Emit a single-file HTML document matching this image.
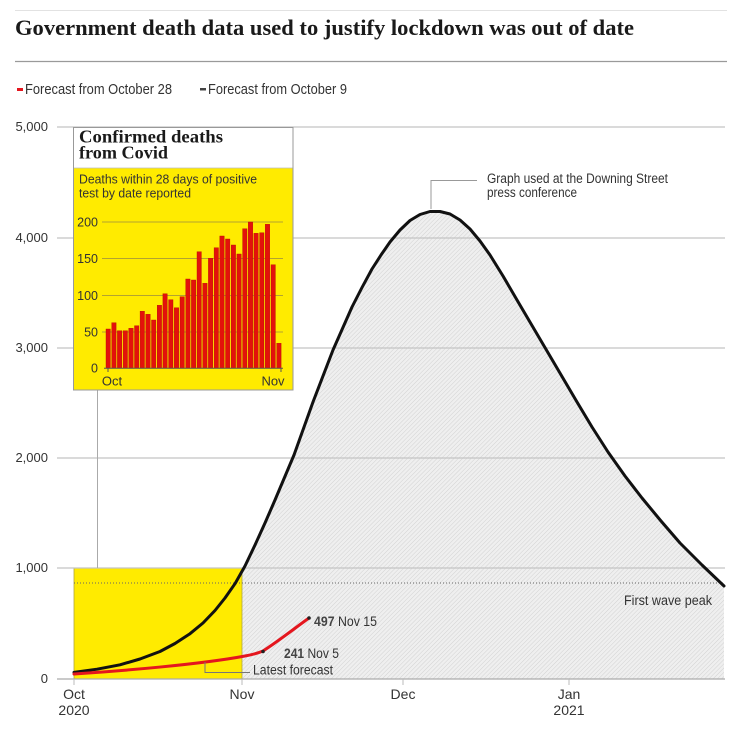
<!DOCTYPE html>
<html><head><meta charset="utf-8"><style>
html,body{margin:0;padding:0;background:#fff;}
svg{display:block;}
text{font-family:"Liberation Sans Narrow","Liberation Sans",sans-serif;fill:#333;}
.serif{font-family:"Liberation Serif",serif;font-weight:bold;fill:#1a1a1a;}
</style></head><body>
<svg width="756" height="739" viewBox="0 0 756 739" xmlns="http://www.w3.org/2000/svg">
<defs>
<pattern id="hatch" width="3" height="3" patternUnits="userSpaceOnUse" patternTransform="rotate(45)">
<rect width="3" height="3" fill="#efefef"/>
<line x1="0" y1="0" x2="0" y2="3" stroke="#d2d2d2" stroke-width="1"/>
</pattern>
</defs>
<rect width="756" height="739" fill="#fff"/>
<line x1="15" y1="10.5" x2="727" y2="10.5" stroke="#e2e2e2" stroke-width="1"/>
<text class="serif" x="15" y="35" font-size="22" textLength="619" lengthAdjust="spacingAndGlyphs">Government death data used to justify lockdown was out of date</text>
<line x1="15" y1="61.5" x2="727" y2="61.5" stroke="#9a9a9a" stroke-width="1.2"/>

<!-- legend -->
<rect x="17" y="88" width="6" height="3" fill="#e4161e"/>
<text x="25" y="94" font-size="15" textLength="147" lengthAdjust="spacingAndGlyphs">Forecast from October 28</text>
<rect x="200" y="88" width="6" height="2.5" fill="#444"/>
<text x="208" y="94" font-size="15" textLength="139" lengthAdjust="spacingAndGlyphs">Forecast from October 9</text>

<!-- hatched area -->
<polygon fill="url(#hatch)" points="242,679 242,571.3 245,566 255,545 265,523 275,500 294,455 313,402 333,350 352,307 362,287.5 372,269 381,255 390,242 400,230 410,220.5 420,214.5 430,211.5 440,211.5 450,214 460,220 470,229 480,241 490,255 503,276 517,300 532,325.5 547,351 562,376.5 577,402 592,427 608,452 625,476 642,498 661,521 680,543 702,565 724,586 724,679"/>

<!-- gridlines -->
<g stroke="#c4c4c4" stroke-width="1.3">
<line x1="57" y1="127" x2="725" y2="127"/>
<line x1="57" y1="238" x2="725" y2="238"/>
<line x1="57" y1="348" x2="725" y2="348"/>
<line x1="57" y1="458" x2="725" y2="458"/>
</g>
<!-- yellow box -->
<rect x="74" y="568" width="168" height="111" fill="#ffeb00" stroke="#b0a640" stroke-width="0.8"/>
<line x1="57" y1="568" x2="725" y2="568" stroke="#c4c4c4" stroke-width="1.3"/>
<line x1="74" y1="583" x2="725" y2="583" stroke="#666" stroke-width="1" stroke-dasharray="1,2"/>
<line x1="57" y1="679" x2="725" y2="679" stroke="#aaa" stroke-width="1.3"/>
<g stroke="#bbb" stroke-width="1">
<line x1="74" y1="679" x2="74" y2="685"/>
<line x1="242" y1="679" x2="242" y2="685"/>
<line x1="403" y1="679" x2="403" y2="685"/>
<line x1="569" y1="679" x2="569" y2="685"/>
</g>

<!-- y labels -->
<g font-size="13" text-anchor="end" fill="#444">
<text x="48" y="131">5,000</text>
<text x="48" y="242">4,000</text>
<text x="48" y="352">3,000</text>
<text x="48" y="462">2,000</text>
<text x="48" y="572">1,000</text>
<text x="48" y="683">0</text>
</g>
<!-- x labels -->
<g font-size="14" text-anchor="middle">
<text x="74" y="699">Oct</text>
<text x="74" y="715">2020</text>
<text x="242" y="699">Nov</text>
<text x="403" y="699">Dec</text>
<text x="569" y="699">Jan</text>
<text x="569" y="715">2021</text>
</g>

<!-- curves -->
<polyline fill="none" stroke="#111" stroke-width="3" stroke-linejoin="round" stroke-linecap="round" points="74,672.4 97,669.2 120,664.8 140,659 160,651.5 175,643.5 190,633.7 203,623 215,610.5 225,598 235,583.7 245,566 255,545 265,523 275,500 294,455 313,402 333,350 352,307 362,287.5 372,269 381,255 390,242 400,230 410,220.5 420,214.5 430,211.5 440,211.5 450,214 460,220 470,229 480,241 490,255 503,276 517,300 532,325.5 547,351 562,376.5 577,402 592,427 608,452 625,476 642,498 661,521 680,543 702,565 724,586"/>
<path fill="none" stroke="#e4161e" stroke-width="3" stroke-linejoin="round" stroke-linecap="round" d="M74,674 C120,671 200,664.5 245,656 Q256,654 263,651 C280,640 295,628 309,618"/>
<circle cx="263" cy="651.5" r="1.8" fill="#222"/>
<circle cx="309" cy="618" r="1.8" fill="#222"/>

<!-- annotations -->
<text x="314" y="626" font-size="13.5" textLength="63" lengthAdjust="spacingAndGlyphs"><tspan font-weight="bold" fill="#444">497</tspan> Nov 15</text>
<text x="284" y="658" font-size="13.5" textLength="55" lengthAdjust="spacingAndGlyphs"><tspan font-weight="bold" fill="#444">241</tspan> Nov 5</text>
<polyline fill="none" stroke="#777" stroke-width="1" points="205,662 205,672.5 250,672.5"/>
<text x="253" y="674.5" font-size="13.5" textLength="80" lengthAdjust="spacingAndGlyphs">Latest forecast</text>
<text x="712" y="605" font-size="13.5" text-anchor="end" textLength="88" lengthAdjust="spacingAndGlyphs">First wave peak</text>
<polyline fill="none" stroke="#999" stroke-width="1" points="431,209 431,180.5 477,180.5"/>
<text x="487" y="183" font-size="13.5" textLength="181" lengthAdjust="spacingAndGlyphs">Graph used at the Downing Street</text>
<text x="487" y="197" font-size="13.5" textLength="90" lengthAdjust="spacingAndGlyphs">press conference</text>

<!-- inset -->
<line x1="97.5" y1="390" x2="97.5" y2="568" stroke="#aaa" stroke-width="1"/>
<rect x="73.5" y="127.5" width="219.5" height="262.5" fill="#ffeb00" stroke="#999" stroke-width="1"/>
<rect x="74" y="128" width="218.5" height="40" fill="#fff"/>
<line x1="74" y1="168" x2="292.5" y2="168" stroke="#bbb" stroke-width="0.8"/>
<text class="serif" x="79" y="142.5" font-size="17.5" textLength="144" lengthAdjust="spacingAndGlyphs">Confirmed deaths</text>
<text class="serif" x="79" y="158.5" font-size="17.5" textLength="89" lengthAdjust="spacingAndGlyphs">from Covid</text>
<text x="79" y="183.5" font-size="13" fill="#222" textLength="178" lengthAdjust="spacingAndGlyphs">Deaths within 28 days of positive</text>
<text x="79" y="197.5" font-size="13" fill="#222" textLength="112" lengthAdjust="spacingAndGlyphs">test by date reported</text>
<g stroke="#b3a330" stroke-width="1">
<line x1="102" y1="222" x2="283" y2="222"/>
<line x1="102" y1="258.5" x2="283" y2="258.5"/>
<line x1="102" y1="295.5" x2="283" y2="295.5"/>
<line x1="102" y1="332" x2="283" y2="332"/>
</g>
<g font-size="12.5" text-anchor="end" fill="#333">
<text x="98" y="226.5">200</text>
<text x="98" y="263">150</text>
<text x="98" y="300">100</text>
<text x="98" y="336.5">50</text>
<text x="98" y="372.5">0</text>
</g>
<g fill="#e3120b" stroke="#b80a05" stroke-width="0.4">
<rect x="106.0" y="329.0" width="4.4" height="39.3"/>
<rect x="111.7" y="322.7" width="4.4" height="45.6"/>
<rect x="117.4" y="330.7" width="4.4" height="37.6"/>
<rect x="123.1" y="330.7" width="4.4" height="37.6"/>
<rect x="128.8" y="328.3" width="4.4" height="40.0"/>
<rect x="134.5" y="325.7" width="4.4" height="42.6"/>
<rect x="140.1" y="311.3" width="4.4" height="57.0"/>
<rect x="145.8" y="314.3" width="4.4" height="54.0"/>
<rect x="151.5" y="320.0" width="4.4" height="48.3"/>
<rect x="157.2" y="305.3" width="4.4" height="63.0"/>
<rect x="162.9" y="293.7" width="4.4" height="74.6"/>
<rect x="168.6" y="299.7" width="4.4" height="68.6"/>
<rect x="174.3" y="307.7" width="4.4" height="60.6"/>
<rect x="180.0" y="296.7" width="4.4" height="71.6"/>
<rect x="185.7" y="279.0" width="4.4" height="89.3"/>
<rect x="191.4" y="280.0" width="4.4" height="88.3"/>
<rect x="197.0" y="251.7" width="4.4" height="116.6"/>
<rect x="202.7" y="283.3" width="4.4" height="85.0"/>
<rect x="208.4" y="258.3" width="4.4" height="110.0"/>
<rect x="214.1" y="247.7" width="4.4" height="120.6"/>
<rect x="219.8" y="236.0" width="4.4" height="132.3"/>
<rect x="225.5" y="239.0" width="4.4" height="129.3"/>
<rect x="231.2" y="245.0" width="4.4" height="123.3"/>
<rect x="236.9" y="254.0" width="4.4" height="114.3"/>
<rect x="242.6" y="228.7" width="4.4" height="139.6"/>
<rect x="248.3" y="222.0" width="4.4" height="146.3"/>
<rect x="253.9" y="233.3" width="4.4" height="135.0"/>
<rect x="259.6" y="232.7" width="4.4" height="135.6"/>
<rect x="265.3" y="224.3" width="4.4" height="144.0"/>
<rect x="271.0" y="264.7" width="4.4" height="103.6"/>
<rect x="276.7" y="343.3" width="4.4" height="25.0"/>
</g>
<line x1="104" y1="368.3" x2="283" y2="368.3" stroke="#555" stroke-width="1"/>
<line x1="108" y1="368" x2="108" y2="372" stroke="#555" stroke-width="1"/>
<line x1="281" y1="368" x2="281" y2="372" stroke="#555" stroke-width="1"/>
<g font-size="13" text-anchor="middle" fill="#222">
<text x="112" y="385.5">Oct</text>
<text x="273" y="385.5">Nov</text>
</g>
</svg>
</body></html>
